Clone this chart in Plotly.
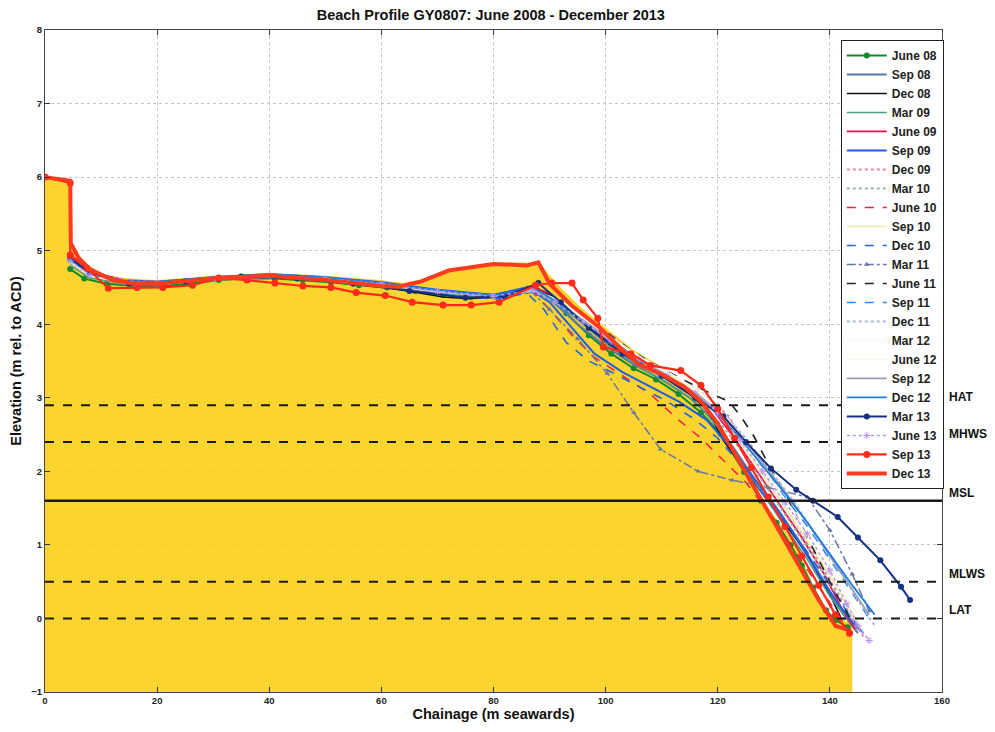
import plotly.graph_objects as go

# ---------------- data ----------------
series_names = ["June 08", "Sep 08", "Dec 08", "Mar 09", "June 09", "Sep 09", "Dec 09",
                "Mar 10", "June 10", "Sep 10", "Dec 10", "Mar 11", "June 11", "Sep 11",
                "Dec 11", "Mar 12", "June 12", "Sep 12", "Dec 12", "Mar 13", "June 13",
                "Sep 13", "Dec 13"]

x_jun08 = [4.5, 7, 11, 16, 21, 26, 31, 36, 41, 46, 51, 56, 61, 66, 71, 76, 81, 86, 89, 93, 97, 101, 105, 109, 113, 117, 120.5, 124.7, 127.7, 130.5, 133, 135, 137, 139.3, 141, 143.2]
y_jun08 = [4.75, 4.62, 4.55, 4.52, 4.52, 4.55, 4.6, 4.62, 4.62, 4.6, 4.57, 4.53, 4.5, 4.45, 4.4, 4.37, 4.38, 4.45, 4.4, 4.15, 3.85, 3.6, 3.4, 3.25, 3.05, 2.8, 2.51, 1.99, 1.6, 1.3, 1.0, 0.72, 0.42, 0.11, -0.02, -0.12]

x_sep08 = [4.5, 8, 14, 20, 30, 40, 50, 60, 70, 80, 86, 90, 95, 100, 105, 110, 115, 119, 123, 127, 131, 135, 139, 142, 145]
y_sep08 = [4.85, 4.68, 4.58, 4.57, 4.63, 4.66, 4.62, 4.55, 4.45, 4.38, 4.45, 4.35, 4.0, 3.7, 3.45, 3.25, 3.0, 2.72, 2.3, 1.85, 1.45, 1.0, 0.5, 0.1, -0.2]

x_dec08 = [4.5, 8, 14, 20, 30, 40, 50, 56.5, 61, 66, 71, 75, 80, 85, 88, 92, 96, 100, 105, 110, 115, 118, 121, 125, 128.9, 131.5, 134.2, 136.5, 138.4, 140.5, 142, 143]
y_dec08 = [4.9, 4.7, 4.58, 4.56, 4.62, 4.66, 4.62, 4.57, 4.5, 4.44, 4.37, 4.35, 4.36, 4.42, 4.48, 4.3, 4.0, 3.75, 3.5, 3.3, 3.05, 2.85, 2.42, 2.0, 1.6, 1.33, 1.06, 0.8, 0.52, 0.25, 0.0, 0.0]

x_mar09 = [4.5, 8, 14, 20, 30, 40, 50, 60, 70, 80, 87, 91, 96, 101, 106, 111, 116, 120, 124, 128, 132, 136, 140, 143, 145]
y_mar09 = [4.8, 4.63, 4.55, 4.55, 4.6, 4.64, 4.6, 4.52, 4.42, 4.36, 4.46, 4.3, 4.0, 3.68, 3.42, 3.2, 2.95, 2.6, 2.15, 1.7, 1.25, 0.8, 0.3, 0.0, -0.15]

x_jun09 = [4.5, 8, 14, 20, 30, 40, 50, 60, 70, 80, 87, 90, 95, 100, 105, 110, 115, 119, 123, 127, 131, 135, 139, 142, 144.5]
y_jun09 = [4.95, 4.72, 4.6, 4.58, 4.63, 4.67, 4.63, 4.55, 4.45, 4.4, 4.5, 4.42, 4.1, 3.8, 3.55, 3.35, 3.1, 2.85, 2.45, 2.0, 1.55, 1.1, 0.6, 0.15, -0.15]

x_sep09 = [4.5, 8, 14, 20, 30, 40, 50, 60, 70, 80, 86, 90, 94, 98, 103, 108, 113, 118, 122, 126, 130, 134, 138, 141, 144, 146]
y_sep09 = [4.88, 4.68, 4.58, 4.57, 4.64, 4.68, 4.64, 4.57, 4.47, 4.4, 4.5, 4.3, 3.95, 3.6, 3.35, 3.15, 2.95, 2.7, 2.35, 1.95, 1.55, 1.1, 0.6, 0.25, -0.05, -0.2]

x_dec09 = [4.5, 8, 14, 20, 30, 40, 50, 60, 70, 80, 87, 91, 96, 101, 106, 111, 116, 119, 122, 125, 129, 133, 137, 141, 144, 146]
y_dec09 = [4.9, 4.7, 4.6, 4.58, 4.63, 4.67, 4.62, 4.55, 4.45, 4.38, 4.47, 4.35, 4.1, 3.85, 3.55, 3.3, 3.05, 2.95, 2.75, 2.3, 1.85, 1.4, 0.9, 0.4, 0.0, -0.25]

x_mar10 = [4.5, 8, 14, 20, 30, 40, 50, 60, 70, 80, 87, 92, 97, 102, 107, 112, 117, 121, 125, 129, 133, 137, 141, 144]
y_mar10 = [4.82, 4.65, 4.56, 4.56, 4.62, 4.66, 4.62, 4.54, 4.44, 4.37, 4.45, 4.25, 3.95, 3.65, 3.4, 3.2, 2.95, 2.6, 2.2, 1.75, 1.3, 0.85, 0.35, 0.0]

x_jun10 = [4.5, 8, 14, 20, 30, 40, 50, 60, 70, 80, 87, 90, 94, 98, 103, 108, 113, 117, 121, 125, 129, 133, 137, 141, 144]
y_jun10 = [4.9, 4.7, 4.58, 4.55, 4.6, 4.64, 4.6, 4.52, 4.42, 4.36, 4.45, 4.2, 3.85, 3.55, 3.3, 3.05, 2.7, 2.45, 2.15, 1.85, 1.45, 1.0, 0.55, 0.1, -0.2]

x_sep10 = [4.5, 8, 14, 20, 30, 40, 50, 60, 70, 80, 87, 92, 97, 102, 107, 112, 117, 121, 125, 129, 133, 137, 141, 145]
y_sep10 = [4.85, 4.66, 4.57, 4.57, 4.63, 4.67, 4.63, 4.55, 4.45, 4.38, 4.47, 4.3, 4.0, 3.72, 3.48, 3.27, 3.02, 2.7, 2.3, 1.85, 1.4, 0.95, 0.45, -0.05]

x_dec10 = [4.5, 8, 14, 20, 30, 40, 50, 60, 70, 80, 86, 89, 93, 97, 101, 106, 111, 116, 120, 124, 128, 132, 136, 140, 143, 146]
y_dec10 = [4.88, 4.68, 4.57, 4.56, 4.62, 4.66, 4.6, 4.52, 4.42, 4.34, 4.42, 4.2, 3.75, 3.5, 3.35, 3.15, 2.95, 2.7, 2.45, 2.1, 1.7, 1.3, 0.9, 0.45, 0.1, -0.2]

x_mar11 = [4.5, 8, 14, 20, 30, 40, 50, 60, 70, 80, 86, 90, 95, 100.3, 105, 109.8, 116.5, 122.6, 129, 136, 140, 144, 147]
y_mar11 = [4.87, 4.68, 4.58, 4.56, 4.6, 4.64, 4.6, 4.53, 4.43, 4.37, 4.5, 4.2, 3.8, 3.33, 2.8, 2.3, 2.0, 1.88, 1.78, 1.65, 1.2, 0.6, 0.1]

x_jun11 = [4.5, 8, 14, 20, 30, 40, 50, 60, 70, 80, 86, 90, 95, 100, 105, 110, 115, 119, 122, 124, 126.5, 129, 132, 135, 138, 141, 144]
y_jun11 = [4.9, 4.7, 4.59, 4.57, 4.62, 4.66, 4.62, 4.55, 4.45, 4.38, 4.48, 4.4, 4.15, 3.9, 3.62, 3.4, 3.2, 3.05, 2.95, 2.76, 2.47, 2.1, 1.7, 1.25, 0.8, 0.35, -0.05]

x_sep11 = [4.5, 8, 14, 20, 30, 40, 50, 60, 70, 80, 87, 91, 96, 101, 106, 111, 116, 120, 124, 128, 132, 136, 140, 144, 147]
y_sep11 = [4.86, 4.67, 4.57, 4.56, 4.62, 4.66, 4.62, 4.54, 4.44, 4.37, 4.46, 4.3, 4.02, 3.75, 3.5, 3.28, 3.05, 2.78, 2.45, 2.05, 1.65, 1.25, 0.8, 0.35, 0.0]

x_dec11 = [4.5, 8, 14, 20, 30, 40, 50, 60, 70, 80, 87, 92, 97, 102, 107, 112, 117, 121, 125, 129, 133, 137, 141, 145, 148]
y_dec11 = [4.84, 4.66, 4.57, 4.56, 4.62, 4.66, 4.62, 4.54, 4.44, 4.37, 4.45, 4.28, 4.0, 3.74, 3.5, 3.3, 3.08, 2.8, 2.45, 2.05, 1.65, 1.2, 0.75, 0.25, -0.1]

x_mar12 = [4.5, 8, 14, 20, 30, 40, 50, 60, 70, 80, 87, 92, 97, 102, 107, 112, 117, 121, 125, 129, 133, 137, 141, 144]
y_mar12 = [4.85, 4.66, 4.57, 4.57, 4.62, 4.66, 4.62, 4.54, 4.44, 4.38, 4.46, 4.3, 4.02, 3.75, 3.5, 3.3, 3.05, 2.75, 2.35, 1.9, 1.45, 1.0, 0.5, 0.1]

x_jun12 = [4.5, 8, 14, 20, 30, 40, 50, 60, 70, 80, 87, 92, 97, 102, 107, 112, 117, 121, 125, 129, 133, 137, 141, 145]
y_jun12 = [4.86, 4.67, 4.58, 4.57, 4.63, 4.67, 4.63, 4.55, 4.45, 4.39, 4.47, 4.32, 4.04, 3.77, 3.52, 3.31, 3.07, 2.78, 2.4, 1.95, 1.5, 1.05, 0.55, 0.05]

x_sep12 = [4.5, 8, 14, 20, 30, 40, 50, 60, 70, 80, 87, 91, 96, 101, 106, 111, 116, 120, 124, 128, 132, 136, 140, 144, 147]
y_sep12 = [4.87, 4.68, 4.58, 4.57, 4.63, 4.67, 4.63, 4.55, 4.45, 4.38, 4.47, 4.32, 4.05, 3.78, 3.52, 3.3, 3.07, 2.82, 2.5, 2.12, 1.72, 1.3, 0.85, 0.4, 0.05]

x_dec12 = [4.5, 8, 14, 20, 30, 40, 50, 60, 70, 80, 87, 91, 96, 101, 106, 111, 116, 120, 124, 128, 132, 136, 140, 144, 148]
y_dec12 = [4.88, 4.69, 4.59, 4.58, 4.64, 4.68, 4.64, 4.56, 4.46, 4.39, 4.5, 4.32, 4.02, 3.72, 3.47, 3.26, 3.03, 2.78, 2.45, 2.08, 1.7, 1.3, 0.88, 0.45, 0.05]

x_mar13 = [4.5, 8, 15, 25, 35, 45, 55, 65, 75, 82, 88, 92, 97, 103, 110, 116, 121, 125, 129.5, 134, 137, 141.4, 145, 149, 152.7, 154.3]
y_mar13 = [4.9, 4.7, 4.55, 4.58, 4.65, 4.62, 4.55, 4.45, 4.36, 4.38, 4.56, 4.3, 3.95, 3.6, 3.3, 3.0, 2.75, 2.4, 2.04, 1.75, 1.6, 1.38, 1.1, 0.79, 0.43, 0.25]

x_jun13 = [4.5, 8, 14, 20, 30, 40, 50, 60, 70, 80, 87, 91, 96, 101, 106, 111, 116, 120, 124, 128, 132, 136, 140, 143, 145, 147]
y_jun13 = [4.86, 4.67, 4.58, 4.56, 4.62, 4.66, 4.62, 4.55, 4.45, 4.38, 4.46, 4.3, 4.03, 3.77, 3.52, 3.3, 3.06, 2.8, 2.42, 2.0, 1.58, 1.15, 0.65, 0.2, -0.1, -0.3]

x_sep13 = [0, 4.5, 4.5, 7.5, 11.3, 16.4, 21, 26.3, 31, 36, 41, 46, 51, 55.5, 60.7, 65.5, 71, 76, 81, 87.5, 90.4, 94, 96, 98.6, 99.6, 104.5, 108, 113.4, 117, 120, 123, 126, 129, 132, 135, 138, 141, 143.5]
y_sep13 = [6.0, 5.92, 4.94, 4.76, 4.49, 4.5, 4.5, 4.53, 4.63, 4.6, 4.56, 4.52, 4.5, 4.43, 4.39, 4.3, 4.26, 4.26, 4.3, 4.53, 4.56, 4.56, 4.33, 4.08, 3.69, 3.6, 3.44, 3.37, 3.17, 2.85, 2.45, 2.05, 1.65, 1.25, 0.85, 0.45, 0.05, -0.2]

x_dec13 = [0, 4.5, 4.6, 6, 8, 12, 16, 20, 30, 40, 50, 60, 63, 67, 72, 80, 86, 88, 90, 94, 99, 103, 106, 110, 114, 117, 120, 123, 126, 129, 132, 135, 138, 141, 143]
y_dec13 = [6.0, 5.95, 5.1, 4.9, 4.75, 4.6, 4.55, 4.55, 4.62, 4.66, 4.6, 4.52, 4.51, 4.58, 4.73, 4.82, 4.8, 4.84, 4.55, 4.25, 3.95, 3.65, 3.45, 3.32, 3.15, 2.95, 2.65, 2.25, 1.85, 1.45, 1.05, 0.65, 0.25, -0.1, -0.15]

# beach body (yellow area)
fill_x = [0, 0, 4.5, 4.6, 7, 10, 15, 20, 30, 40, 50, 60, 65, 72, 80, 87, 88.5, 92, 96, 100, 105, 110, 115, 118, 121, 125, 128, 131, 134, 137, 139.5, 142, 144, 144]
fill_y = [-1, 6.0, 5.95, 5.1, 4.85, 4.68, 4.62, 4.6, 4.66, 4.7, 4.66, 4.6, 4.55, 4.74, 4.84, 4.84, 4.8, 4.5, 4.2, 3.95, 3.65, 3.42, 3.15, 2.9, 2.5, 2.0, 1.6, 1.3, 1.0, 0.45, 0.1, -0.02, -0.05, -1]

# tide levels
tide_names = ["HAT", "MHWS", "MSL", "MLWS", "LAT"]
tide_levels = [2.9, 2.4, 1.6, 0.5, 0.0]
tide_dash = ["dash", "dash", "solid", "dash", "dash"]
x_span = [0, 160]

x_ticks = [0, 20, 40, 60, 80, 100, 120, 140, 160]
y_ticks = [-1, 0, 1, 2, 3, 4, 5, 6, 7, 8]

# ---------------- styles ----------------
profiles = [
    (x_jun08, y_jun08, dict(color="#138a2b", width=2), dict(symbol="circle", size=6)),
    (x_sep08, y_sep08, dict(color="#5b78a8", width=2), None),
    (x_dec08, y_dec08, dict(color="#111111", width=1.6), None),
    (x_mar09, y_mar09, dict(color="#4f9e8c", width=1.6), None),
    (x_jun09, y_jun09, dict(color="#ee1148", width=1.8), None),
    (x_sep09, y_sep09, dict(color="#1f5fe0", width=2), None),
    (x_dec09, y_dec09, dict(color="#e08a9c", width=2, dash="dot"), None),
    (x_mar10, y_mar10, dict(color="#95b8a6", width=2, dash="dot"), None),
    (x_jun10, y_jun10, dict(color="#ff1a40", width=1.5, dash="dash"), None),
    (x_sep10, y_sep10, dict(color="#f1eeb8", width=2), None),
    (x_dec10, y_dec10, dict(color="#1f62e4", width=1.6, dash="dash"), None),
    (x_mar11, y_mar11, dict(color="#6a76a6", width=1.5, dash="dashdot"), dict(symbol="triangle-up", size=5)),
    (x_jun11, y_jun11, dict(color="#222222", width=1.6, dash="dash"), None),
    (x_sep11, y_sep11, dict(color="#2a88ff", width=1.5, dash="dash"), None),
    (x_dec11, y_dec11, dict(color="#a9b8d6", width=2, dash="dot"), None),
    (x_mar12, y_mar12, dict(color="#fafaf4", width=1.5), None),
    (x_jun12, y_jun12, dict(color="#fdf8e4", width=1.5), None),
    (x_sep12, y_sep12, dict(color="#9aa0b0", width=1.8), None),
    (x_dec12, y_dec12, dict(color="#1e7ce0", width=1.8), None),
    (x_mar13, y_mar13, dict(color="#14307e", width=2), dict(symbol="circle", size=6)),
    (x_jun13, y_jun13, dict(color="#b896ee", width=1.5, dash="dot"), dict(symbol="asterisk-open", size=6)),
    (x_sep13, y_sep13, dict(color="#ff2a1a", width=2.2), dict(symbol="circle", size=7)),
    (x_dec13, y_dec13, dict(color="#ff3a1e", width=4), None),
]

fig = go.Figure()

fig.add_trace(go.Scatter(x=fill_x, y=fill_y, fill="toself", mode="lines",
                         fillcolor="rgba(252,205,14,0.86)", line=dict(width=0),
                         showlegend=False, hoverinfo="skip"))

for name, (xs, ys, ln, mk) in zip(series_names, profiles):
    if mk is not None:
        m = dict(mk)
        m["color"] = ln["color"]
        fig.add_trace(go.Scatter(x=xs, y=ys, mode="lines+markers", name=name, line=ln, marker=m))
    else:
        fig.add_trace(go.Scatter(x=xs, y=ys, mode="lines", name=name, line=ln))

FAM = "Liberation Sans, Arial"
for nm, lv, ds in zip(tide_names, tide_levels, tide_dash):
    fig.add_trace(go.Scatter(x=x_span, y=[lv, lv], mode="lines", showlegend=False,
                             line=dict(color="#1a1a1a", width=2.4 if ds == "solid" else 2, dash=ds),
                             hoverinfo="skip"))
    fig.add_annotation(x=1.006, xref="paper", xanchor="left", y=lv, yref="y", yanchor="bottom",
                       yshift=-1, text=nm, showarrow=False,
                       font=dict(family=FAM, size=12, color="#111", weight="bold"))

axis_font = dict(family=FAM, size=9.5, color="#222", weight="bold")
title_font = dict(family=FAM, size=14.5, color="#111", weight="bold")

# the page body adds an 8px offset, so the figure is 8px smaller and margins shifted
fig.update_layout(
    width=987, height=724,
    margin=dict(l=37, r=53, t=22, b=40),
    paper_bgcolor="white", plot_bgcolor="white",
    title=dict(text="Beach Profile GY0807: June 2008 - December 2013", x=0.497, xanchor="center",
               xref="paper", y=0.99, yref="container", yanchor="middle", font=title_font),
    showlegend=True,
    legend=dict(x=1.002, xanchor="right", y=0.985, yanchor="top",
                bgcolor="white", bordercolor="#222", borderwidth=1,
                font=dict(family=FAM, size=12, color="#222", weight="bold"),
                tracegroupgap=0, itemwidth=40),
)

fig.update_xaxes(range=[0, 160], tickvals=x_ticks, ticks="inside", ticklen=5, tickcolor="#333",
                 showline=True, linecolor="#444", linewidth=1, mirror="ticks",
                 showgrid=True, gridcolor="#c4c4c4", griddash="dot", gridwidth=1,
                 zeroline=False, tickfont=axis_font, automargin=False,
                 title=dict(text="Chainage (m seawards)", font=title_font, standoff=3))
fig.update_yaxes(range=[-1, 8], tickvals=y_ticks, ticks="inside", ticklen=5, tickcolor="#333",
                 showline=True, linecolor="#444", linewidth=1, mirror="ticks",
                 showgrid=True, gridcolor="#c4c4c4", griddash="dot", gridwidth=1,
                 zeroline=False, tickfont=axis_font, automargin=False,
                 title=dict(text="Elevation (m rel. to ACD)", font=title_font, standoff=6))

fig.write_html("out.html")
